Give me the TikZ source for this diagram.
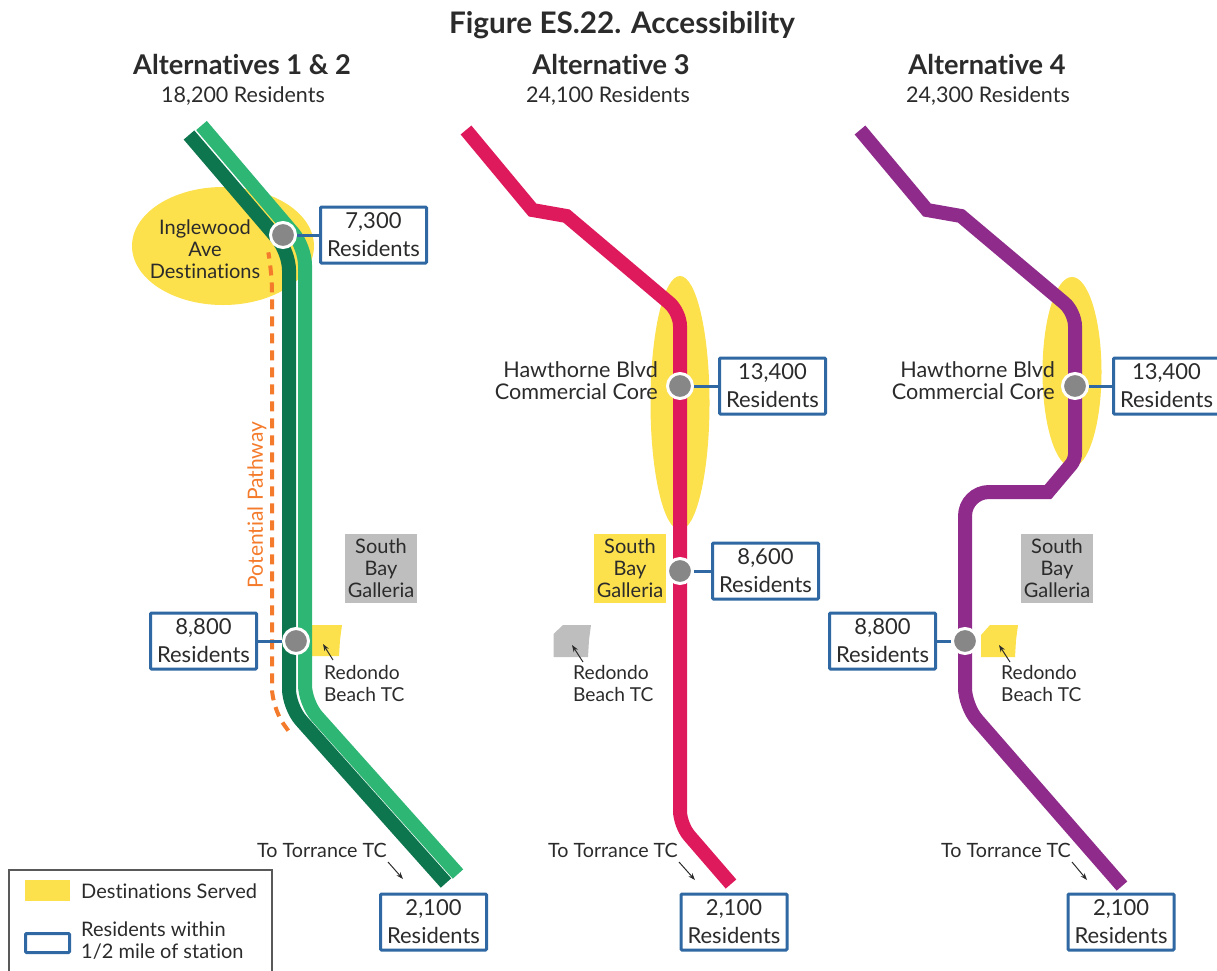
\documentclass[tikz,border=0pt]{standalone}
\usepackage{fontspec}
\setmainfont{Lato}[Ligatures=CommonOff]
\usetikzlibrary{positioning,shapes.geometric,arrows.meta}
\definecolor{darkgreen}{HTML}{0E764E}
\definecolor{lightgreen}{HTML}{2DB674}
\definecolor{crimson}{HTML}{DE1A5C}
\definecolor{violet}{HTML}{8F2B8B}
\definecolor{destyellow}{HTML}{FCE04C}
\definecolor{boxblue}{HTML}{2F68A2}
\definecolor{pathorange}{HTML}{F47B2B}
\definecolor{offgray}{HTML}{BEBEBE}
\definecolor{ink}{HTML}{2B2B2B}

\begin{document}
\begin{tikzpicture}[x=1pt,y=-1pt,text=ink,
						route/.style={line width=14pt,rounded corners=18pt},
						stop/.style={circle,fill=black!47,draw=white,line width=3pt,inner sep=0pt,minimum size=25pt},
						resbox/.style={draw=boxblue,fill=white,line width=3pt,rounded corners=1pt,align=center,inner sep=0pt,minimum width=106pt,minimum height=56pt,font=\fontsize{22}{28}\selectfont},
						leader/.style={draw=boxblue,line width=3pt},
						served/.style={ellipse,fill=destyellow,inner sep=0pt},
						place/.style={align=center,inner sep=0pt,font=\fontsize{20}{22}\selectfont},
						galleria/.style={place,minimum width=72pt,minimum height=69pt},
						pointer/.style={-{Stealth[length=7pt,width=5pt]},line width=1pt,draw=ink},
						head/.style={inner sep=0pt,font=\fontsize{27.2}{30}\bfseries\selectfont},
						sub/.style={inner sep=0pt,font=\fontsize{21.5}{26}\selectfont}]
		\useasboundingbox (0,0) rectangle (1217,970);

		% headings
		\node[head,font=\fontsize{29.7}{32}\bfseries\selectfont]	(title)	at (622,25)	{Figure ES.22. Accessibility};
		\node[head]	(alt1)	at (242,64)		{Alternatives 1 \& 2};
		\node[head]	(alt3)	at (611,64)		{Alternative 3};
		\node[head]	(alt4)	at (987,64)		{Alternative 4};
		\node[sub]	(res1)	at (243,96)		{18,200 Residents};
		\node[sub]	(res3)	at (608,96)		{24,100 Residents};
		\node[sub]	(res4)	at (988,96)		{24,300 Residents};

		% destinations
		\node[served,minimum width=182pt,minimum height=118pt]	(ingl)	at (223,246)	{};
		\node[served,minimum width=59pt,minimum height=254pt]	(haw3)	at (680,403)	{};
		\node[served,minimum width=59pt,minimum height=190pt]	(haw4)	at (1072,372)	{};
		\fill[destyellow] (312,625) -- (342,625) -- (340,640) -- (339,656) -- (312,656) -- cycle;
		\fill[offgray] (553.5,634) -- (563,625) -- (591,625) -- (589,640) -- (588,657) -- (553.5,657) -- cycle;
		\fill[destyellow] (981,635) -- (990,625) -- (1018,625) -- (1016,640) -- (1015,657) -- (981,657) -- cycle;

		% routes
		\draw[pathorange,line width=4pt,dash pattern=on 10pt off 7pt,rounded corners=20pt] (269,256) -- (272,272) -- (272,708) -- (290,733);
		\draw[route,lightgreen] (201.5,125.5) -- (305,247) -- (305,703) -- (458,874);
		\draw[route,darkgreen] (189,135) -- (289,252) -- (289,707) -- (446,883);
		\draw[route,crimson,sharp corners] (466,130) -- (532.5,210) -- (566.5,216) [rounded corners=14pt] -- (680,312) -- (680,825) -- (731,884);
		\draw[route,violet,sharp corners] (860,130) -- (927,210) -- (961,216) [rounded corners=14pt] -- (1075,312) [rounded corners=6pt] -- (1075,460) [sharp corners] -- (1048,492) [rounded corners=24pt] -- (965,492) [rounded corners=18pt] -- (965,706) -- (1122,886);
		\node[rotate=90,inner sep=0pt,text=pathorange,font=\fontsize{21}{22}\selectfont]	(pot)	at (257,505)	{Potential Pathway};

		% stations and their boxes
		\node[stop]	(st1)	at (283,235)	{};
		\node[stop]	(st2)	at (296,641)	{};
		\node[stop]	(st3)	at (680,386)	{};
		\node[stop]	(st4)	at (680,571)	{};
		\node[stop]	(st5)	at (1075,386)	{};
		\node[stop]	(st6)	at (965,641)	{};
		\node[resbox,node distance=22pt,right=of st1]	(box1)	{7,300\\Residents};
		\node[resbox,node distance=24pt,left=of st2]	(box2)	{8,800\\Residents};
		\node[resbox,node distance=24pt,right=of st3]	(box3)	{13,400\\Residents};
		\node[resbox,node distance=17pt,right=of st4]	(box4)	{8,600\\Residents};
		\node[resbox,node distance=23pt,right=of st5]	(box5)	{13,400\\Residents};
		\node[resbox,node distance=14pt,left=of st6]	(box6)	{8,800\\Residents};
		\node[resbox]	(end1)	at (433.5,922)	{2,100\\Residents};
		\node[resbox]	(end3)	at (734,922)	{2,100\\Residents};
		\node[resbox]	(end4)	at (1121,922)	{2,100\\Residents};
		\draw[leader] (st1) -- (box1);
		\draw[leader] (st2) -- (box2);
		\draw[leader] (st3) -- (box3);
		\draw[leader] (st4) -- (box4);
		\draw[leader] (st5) -- (box5);
		\draw[leader] (st6) -- (box6);

		% place names
		\node[place]	(inglname)	at (205,249)	{Inglewood\\Ave\\Destinations};
		\node[place,align=right,anchor=east,font=\fontsize{21.6}{22}\selectfont]	(hawname3)	at (658,381)	{Hawthorne Blvd\\Commercial Core};
		\node[place,align=right,anchor=east,font=\fontsize{21.6}{22}\selectfont]	(hawname4)	at (1055,381)	{Hawthorne Blvd\\Commercial Core};
		\node[galleria,fill=offgray]	(gal1)	at (381,568.5)	{South\\Bay\\Galleria};
		\node[galleria,fill=destyellow]	(gal3)	at (630,568.5)	{South\\Bay\\Galleria};
		\node[galleria,fill=offgray]	(gal4)	at (1057,568.5)	{South\\Bay\\Galleria};
		\node[place,align=left,anchor=west,font=\fontsize{19.2}{22}\selectfont]	(red1)	at (324,683.5)	{Redondo\\Beach TC};
		\node[place,align=left,anchor=west,font=\fontsize{19.2}{22}\selectfont]	(red3)	at (573,683.5)	{Redondo\\Beach TC};
		\node[place,align=left,anchor=west,font=\fontsize{19.2}{22}\selectfont]	(red4)	at (1001,683.5)	{Redondo\\Beach TC};
		\node[place,anchor=east,font=\fontsize{19.7}{22}\selectfont]	(tor1)	at (387,850)	{To Torrance TC};
		\node[place,anchor=east,font=\fontsize{19.7}{22}\selectfont]	(tor3)	at (678,850)	{To Torrance TC};
		\node[place,anchor=east,font=\fontsize{19.7}{22}\selectfont]	(tor4)	at (1071,850)	{To Torrance TC};

		% small arrows
		\coordinate (a1) at (333,660);	\coordinate (b1) at (323,644);
		\coordinate (a2) at (583,662);	\coordinate (b2) at (572,645);
		\coordinate (a3) at (1010,662);	\coordinate (b3) at (999,645);
		\coordinate (a4) at (388,862);	\coordinate (b4) at (403,879);
		\coordinate (a5) at (679,862);	\coordinate (b5) at (695,880);
		\coordinate (a6) at (1072,862);	\coordinate (b6) at (1087,880);
		\draw[pointer] (a1) -- (b1);
		\draw[pointer] (a2) -- (b2);
		\draw[pointer] (a3) -- (b3);
		\draw[pointer] (a4) -- (b4);
		\draw[pointer] (a5) -- (b5);
		\draw[pointer] (a6) -- (b6);

		% legend
		\draw[black!65,line width=1.5pt] (9,971) -- (9,870) -- (272,870) -- (272,971);
		\node[fill=destyellow,inner sep=0pt,minimum width=45pt,minimum height=21pt]	(keyyellow)	at (47.5,890.5)	{};
		\node[draw=boxblue,line width=3pt,rounded corners=1pt,inner sep=0pt,minimum width=44pt,minimum height=19pt]	(keyblue)	at (47.5,943)	{};
		\node[place,anchor=west]	(keytext1)	at (81,891)	{Destinations Served};
		\node[place,align=left,anchor=west]	(keytext2)	at (81,941)	{Residents within\\1/2 mile of station};
	\end{tikzpicture}
\end{document}
